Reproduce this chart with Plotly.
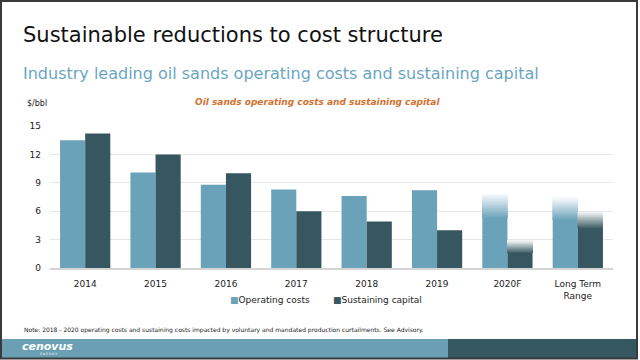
import plotly.graph_objects as go

categories = ["2014", "2015", "2016", "2017", "2018", "2019", "2020F", "Long Term<br>Range"]
operating_costs = [13.5, 10.1, 8.8, 8.3, 7.6, 8.2, 7.8, 7.4]
sustaining_capital = [14.2, 12.0, 10.0, 6.0, 4.9, 4.0, 2.9, 5.9]
# where the faded (range) part of the last two bars begins
operating_fade_from = [None, None, None, None, None, None, 5.3, 5.1]
sustaining_fade_from = [None, None, None, None, None, None, 1.6, 4.2]
y_ticks = [0, 3, 6, 9, 12, 15]

OP_RGB = (106, 162, 186)
SC_RGB = (54, 87, 95)

W, H = 640, 360
L, R, T, B = 50, 613, 126, 268  # plot area in pixels


def px(x):
    return (x - L) / (R - L)


def py(y):
    return (B - y) / (B - T)


fig = go.Figure()

BW = 0.357


def blend(rgb, a):
    return "rgb(%d,%d,%d)" % tuple(round(c * a + 255 * (1 - a)) for c in rgb)


def add_series(values, fade_from, rgb, offset, name):
    solid = [f if f is not None else v for v, f in zip(values, fade_from)]
    fig.add_trace(go.Bar(
        x=categories, y=solid, name=name, offset=offset, width=BW,
        marker=dict(color="rgb(%d,%d,%d)" % rgb, line=dict(width=0)),
        showlegend=False, hoverinfo="skip"))
    n = 40
    xs, lows, highs = [], [], []
    for c, v, f in zip(categories, values, fade_from):
        if f is not None:
            xs.append(c)
            lows.append(f)
            highs.append(v)
    for i in range(n):
        alpha = 1.0 - ((i + 0.5) / n) * 0.93
        last = i == n - 1
        fig.add_trace(go.Bar(
            x=xs,
            base=[lo + (hi - lo) * i / n for lo, hi in zip(lows, highs)],
            y=[(hi - lo) / n * (1.0 if last else 1.6) for lo, hi in zip(lows, highs)],
            offset=offset, width=BW,
            marker=dict(color=blend(rgb, alpha), line=dict(width=0)),
            showlegend=False, hoverinfo="skip"))


add_series(operating_costs, operating_fade_from, OP_RGB, -BW, "Operating costs")
add_series(sustaining_capital, sustaining_fade_from, SC_RGB, 0.0, "Sustaining capital")

font = "DejaVu Sans"

shapes = [
    # footer bands
    dict(type="rect", xref="paper", yref="paper", x0=px(0), x1=px(448), y0=py(339), y1=py(358),
         fillcolor="#6b9fb4", line=dict(width=0), layer="below"),
    dict(type="rect", xref="paper", yref="paper", x0=px(448), x1=px(637), y0=py(339), y1=py(358),
         fillcolor="#35575f", line=dict(width=0), layer="below"),
    # frame
    dict(type="rect", xref="paper", yref="paper", x0=px(1), x1=px(637), y0=py(1), y1=py(358.5),
         fillcolor="rgba(0,0,0,0)", line=dict(color="#3a3a3a", width=2)),
]

annotations = [
    dict(text="Sustainable reductions to cost structure", x=px(21), y=py(35), xanchor="left",
         yanchor="middle", font=dict(family=font, size=21, color="#111111")),
    dict(text="Industry leading oil sands operating costs and sustaining capital", x=px(21), y=py(73),
         xanchor="left", yanchor="middle", font=dict(family=font, size=16, color="#6aa6c1")),
    dict(text="$/bbl", x=px(25), y=py(103), xanchor="left", yanchor="middle",
         font=dict(family=font, size=8, color="#222222")),
    dict(text="<b><i>Oil sands operating costs and sustaining capital</i></b>", x=px(317), y=py(102),
         xanchor="center", yanchor="middle", font=dict(family=font, size=9, color="#d2712f")),
    dict(text="<span style='color:rgb(106,162,186)'>■</span>Operating costs", x=px(228), y=py(300),
         xanchor="left", yanchor="middle", font=dict(family=font, size=9, color="#222222")),
    dict(text="<span style='color:rgb(54,87,95)'>■</span>Sustaining capital", x=px(331), y=py(300),
         xanchor="left", yanchor="middle", font=dict(family=font, size=9, color="#222222")),
    dict(text="Note: 2018 - 2020 operating costs and sustaining costs impacted by voluntary and mandated production curtailments. See Advisory.",
         x=px(22), y=py(330), xanchor="left", yanchor="middle",
         font=dict(family=font, size=6, color="#222222")),
    dict(text="<b><i>cenovus</i></b>", x=px(20), y=py(346), xanchor="left", yanchor="middle",
         font=dict(family=font, size=11, color="#ffffff")),
    dict(text="E N E R G Y", x=px(38), y=py(354), xanchor="left", yanchor="middle",
         font=dict(family=font, size=3, color="#ffffff")),
]

for a in annotations:
    a.update(xref="paper", yref="paper", showarrow=False)

fig.update_layout(
    width=W, height=H,
    margin=dict(l=L, r=W - R, t=T, b=H - B),
    paper_bgcolor="white", plot_bgcolor="white",
    barmode="overlay",
    showlegend=False,
    shapes=shapes,
    annotations=annotations,
    xaxis=dict(type="category", categoryorder="array", categoryarray=categories,
               tickfont=dict(family=font, size=9, color="#222222"), showgrid=False,
               showline=True, linecolor="#d4d4d4", linewidth=2, ticks="", ticklabelstandoff=6),
    yaxis=dict(range=[0, 15], tickvals=y_ticks, showgrid=True, gridcolor="#e6e6e6", gridwidth=1,
               zeroline=False, showline=False, ticks="",
               tickfont=dict(family=font, size=9, color="#222222"), ticklabelstandoff=8),
)

fig.write_html("out.html", config={"displayModeBar": False},
               post_script="document.body.style.margin='0px';document.body.style.overflow='hidden';")
